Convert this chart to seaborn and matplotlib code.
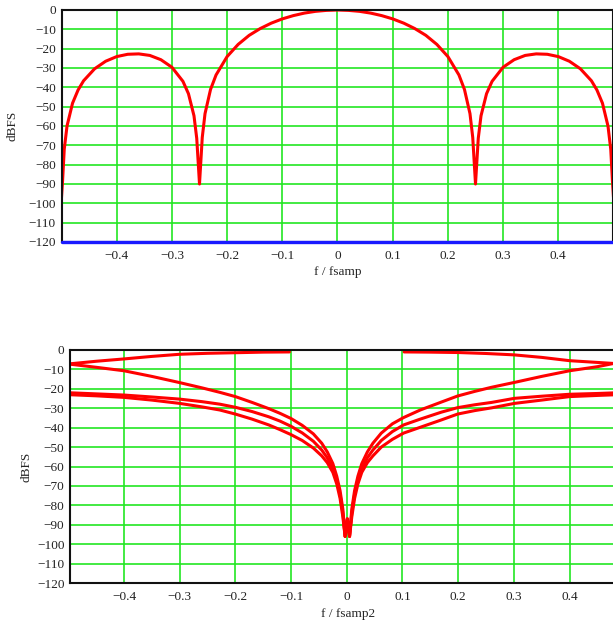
import pandas as pd
import seaborn as sns
import matplotlib.pyplot as plt
from matplotlib.ticker import FuncFormatter

# Panel 1: response against f / fsamp
f_top = [-0.5, -0.498, -0.495, -0.49, -0.48, -0.47, -0.46, -0.44, -0.42, -0.40,
         -0.38, -0.36, -0.34, -0.32, -0.30, -0.28, -0.27, -0.26, -0.255, -0.25,
         -0.245, -0.24, -0.23, -0.22, -0.20, -0.18, -0.16, -0.14, -0.12, -0.10,
         -0.08, -0.06, -0.04, -0.02, 0.0,
         0.02, 0.04, 0.06, 0.08, 0.10, 0.12, 0.14, 0.16, 0.18, 0.20,
         0.22, 0.23, 0.24, 0.245, 0.25, 0.255, 0.26, 0.27, 0.28, 0.30,
         0.32, 0.34, 0.36, 0.38, 0.40, 0.42, 0.44, 0.46, 0.47, 0.48,
         0.49, 0.495, 0.498, 0.5]
db_top = [-97, -88, -72, -60, -48.2, -41.4, -36.6, -30.4, -26.5, -24.1,
          -22.9, -22.7, -23.5, -25.7, -29.6, -36.9, -43.3, -54.7, -66.4, -90,
          -65.9, -53.6, -41.1, -33.6, -24.1, -17.8, -13.1, -9.6, -6.8, -4.6,
          -2.9, -1.6, -0.7, -0.2, 0.0,
          -0.2, -0.7, -1.6, -2.9, -4.6, -6.8, -9.6, -13.1, -17.8, -24.1,
          -33.6, -41.1, -53.6, -65.9, -90, -66.4, -54.7, -43.3, -36.9, -29.6,
          -25.7, -23.5, -22.7, -22.9, -24.1, -26.5, -30.4, -36.6, -41.4, -48.2,
          -60, -72, -88, -97]
floor_f = [-0.5, 0.5]
floor_db = [-120, -120]

# Panel 2: responses against f / fsamp2
fA_left = [-0.5, -0.45, -0.4, -0.35, -0.3, -0.25, -0.2, -0.15, -0.103]
dbA_left = [-7.2, -5.8, -4.6, -3.3, -2.2, -1.7, -1.4, -1.1, -1.0]
fA_right = [0.103, 0.15, 0.2, 0.25, 0.3, 0.35, 0.4, 0.45, 0.478, 0.5]
dbA_right = [-1.0, -1.1, -1.3, -1.8, -2.5, -3.8, -5.5, -6.4, -6.9, -7.3]

f_bot = [-0.5, -0.45, -0.4, -0.35, -0.3, -0.26, -0.228, -0.2, -0.17, -0.14,
         -0.12, -0.1, -0.08, -0.06, -0.045, -0.035, -0.025, -0.018, -0.012, -0.007,
         -0.003, 0.001, 0.005,
         0.009, 0.014, 0.02, 0.027, 0.037, 0.047, 0.062, 0.082, 0.102, 0.132,
         0.17, 0.199, 0.23, 0.26, 0.301, 0.35, 0.4, 0.45, 0.478, 0.5]
dbB = [-7.2, -8.9, -10.7, -13.6, -16.8, -19.5, -21.8, -24.0, -27.0, -30.2,
       -32.6, -35.3, -38.8, -43.2, -48.0, -52.5, -58.5, -65.0, -72.5, -82.0,
       -96.0, -87.0, -96.0,
       -82.0, -72.5, -65.0, -58.5, -52.5, -48.0, -42.8, -38.0, -34.8, -30.9,
       -26.8, -23.7, -21.3, -19.2, -16.7, -13.6, -10.7, -8.6, -7.0, -7.6]
dbC = [-22.0, -22.6, -23.2, -24.2, -25.3, -26.6, -27.9, -29.5, -31.7, -34.4,
       -36.6, -39.3, -42.7, -47.0, -51.5, -55.5, -61.0, -67.0, -74.5, -84.0,
       -96.0, -87.0, -96.0,
       -84.0, -74.5, -67.0, -61.0, -55.5, -51.5, -46.6, -42.0, -38.6, -35.6,
       -32.0, -29.7, -28.2, -27.0, -24.9, -23.8, -22.8, -22.4, -22.1, -22.0]
dbD = [-23.0, -23.6, -24.4, -25.8, -27.5, -29.3, -30.9, -33.0, -35.6, -38.6,
       -41.0, -43.6, -46.6, -50.5, -54.5, -58.0, -63.0, -69.0, -76.5, -86.0,
       -96.0, -87.0, -96.0,
       -86.0, -76.5, -69.0, -63.0, -58.0, -54.5, -50.0, -46.0, -42.8, -39.8,
       -36.0, -33.0, -31.2, -29.8, -27.5, -25.8, -24.0, -23.4, -23.1, -23.0]

x_ticks = [-0.4, -0.3, -0.2, -0.1, 0, 0.1, 0.2, 0.3, 0.4]
y_ticks = list(range(0, -121, -10))

sns.set_style("white")
plt.rcParams["font.family"] = ["Liberation Serif", "DejaVu Serif"]
plt.rcParams["axes.unicode_minus"] = True

fig = plt.figure(figsize=(6.13, 6.22), dpi=100)
W, H = 613.0, 622.0
ax1 = fig.add_axes([61.5 / W, 1 - 242 / H, 552 / W, 232 / H])
ax2 = fig.add_axes([70 / W, 1 - 583 / H, 555.2 / W, 233 / H])

grid_green = "#22e622"
red = "#ff0000"


def fmt(v, pos):
    if abs(v) < 1e-9:
        return "0"
    s = ("%g" % v)
    return s.replace("-", "\u2212")


for ax in (ax1, ax2):
    ax.set_ylim(-120, 0)
    ax.set_xticks(x_ticks)
    ax.set_yticks(y_ticks)
    ax.xaxis.set_major_formatter(FuncFormatter(fmt))
    ax.yaxis.set_major_formatter(FuncFormatter(fmt))
    ax.grid(True, color=grid_green, lw=1.2)
    ax.set_axisbelow(True)
    ax.tick_params(length=0, labelsize=9.5, colors="#222222")
    ax.tick_params(axis="x", pad=6)
    ax.tick_params(axis="y", pad=4)
    for side in ("top", "left", "bottom", "right"):
        ax.spines[side].set_color("#111111")
        ax.spines[side].set_linewidth(1.5)

ax1.set_xlim(-0.5, 0.5)
ax2.set_xlim(-0.497, 0.5)

sns.lineplot(x=f_top, y=db_top, color=red, lw=2.2, sort=False, ax=ax1)
sns.lineplot(x=floor_f, y=floor_db, color="#1a1aff", lw=2.4, sort=False,
             ax=ax1, clip_on=False, zorder=3)

for fx, fy in [(fA_left, dbA_left), (fA_right, dbA_right),
               (f_bot, dbB), (f_bot, dbC), (f_bot, dbD)]:
    sns.lineplot(x=fx, y=fy, color=red, lw=2.2, sort=False, ax=ax2)

ax1.set_xlabel("f / fsamp", fontsize=9.5, labelpad=3)
ax2.set_xlabel("f / fsamp2", fontsize=9.5, labelpad=3)
for ax, xpos in ((ax1, -0.077), (ax2, -0.067)):
    ax.set_ylabel("dBFS", fontsize=9.5)
    ax.yaxis.set_label_coords(xpos, 0.5)

fig.savefig("out.png", dpi=100)
